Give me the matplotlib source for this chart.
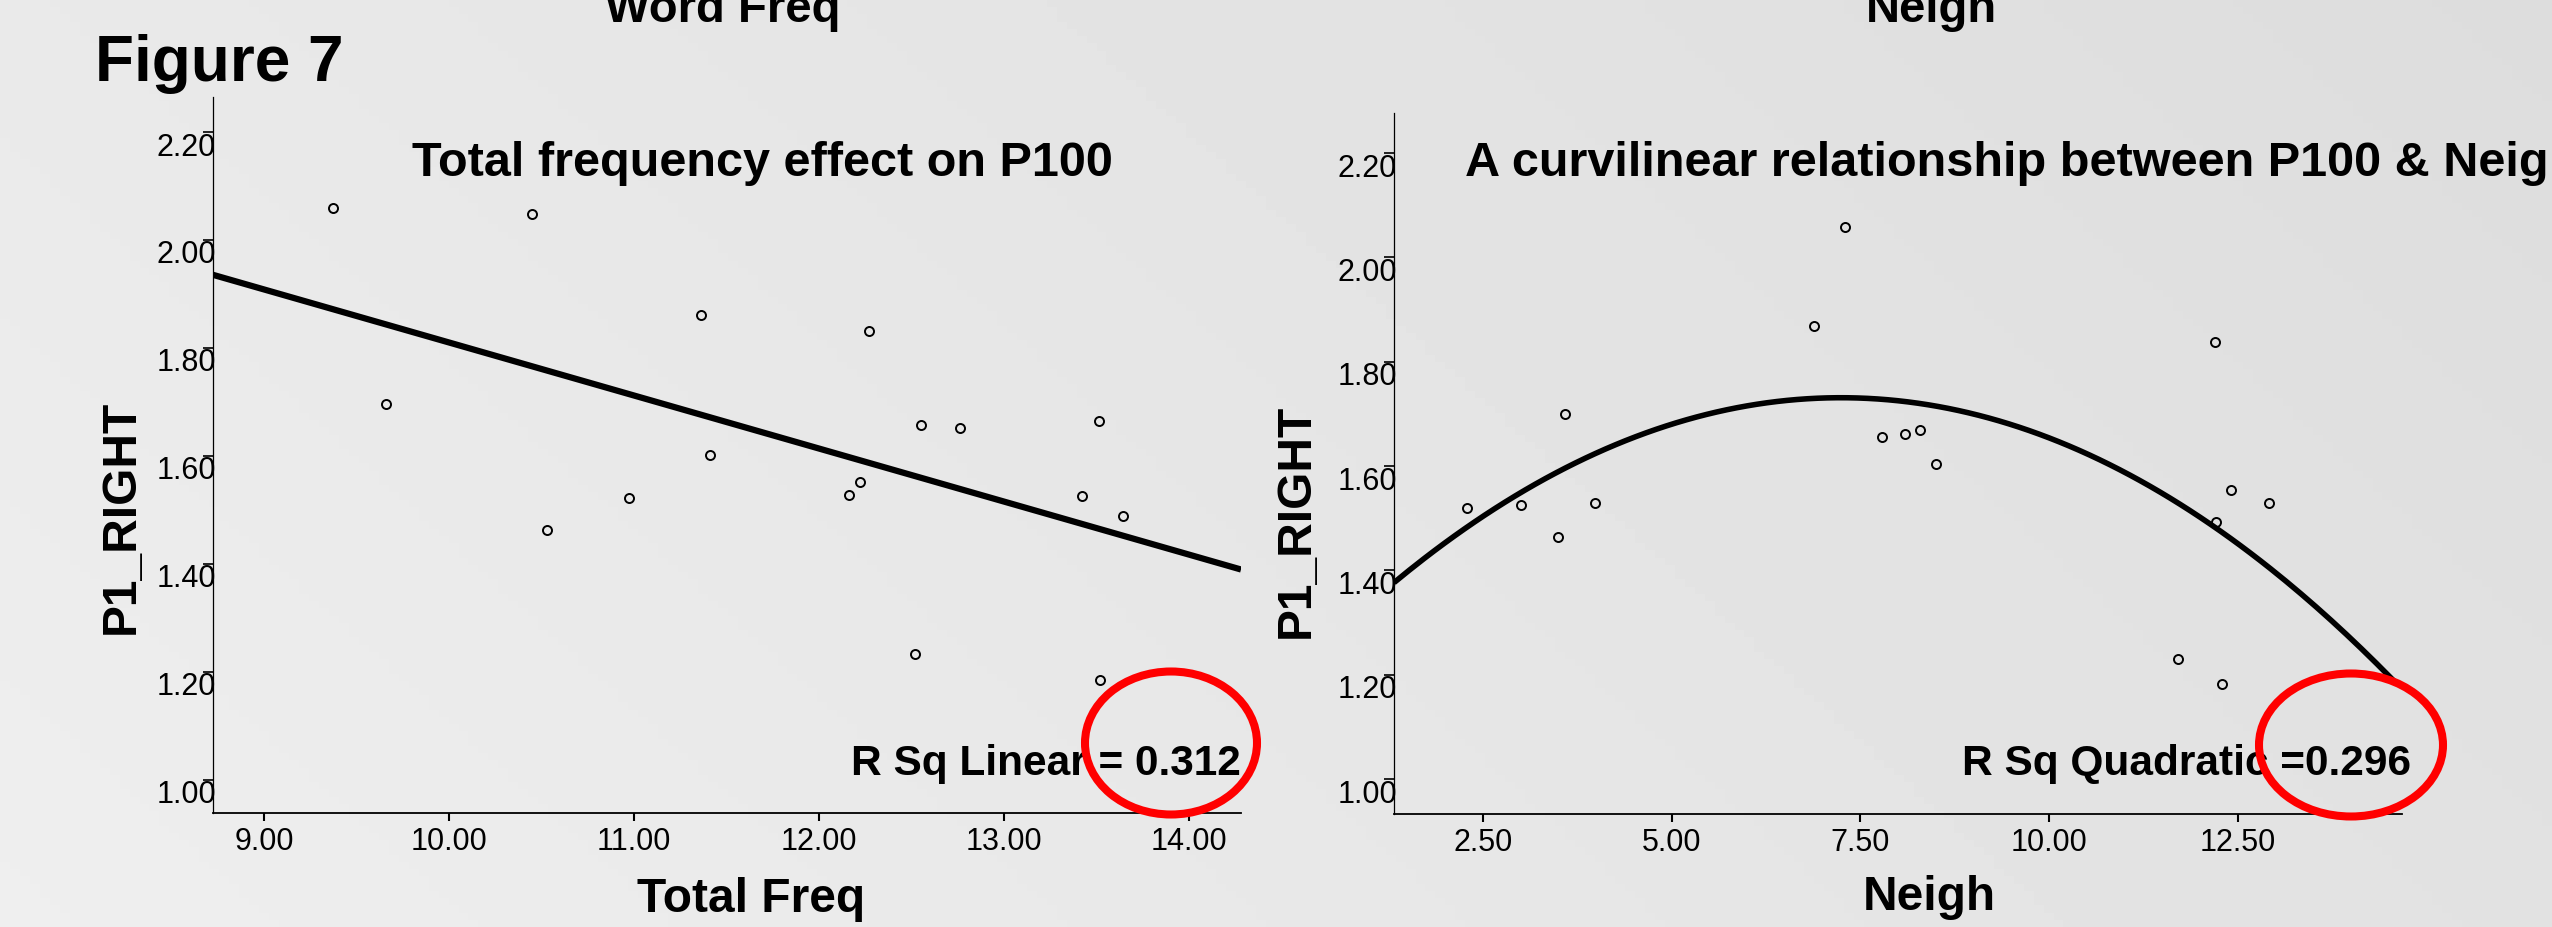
import matplotlib
matplotlib.use('Agg')

import numpy as np
import matplotlib.pyplot as plt
from matplotlib.patches import Ellipse
from matplotlib.transforms import ScaledTranslation

# Left panel: Total Freq vs P1_RIGHT
total_freq = [9.37, 10.45, 9.66, 11.36, 12.27, 11.41, 10.97, 10.53, 12.16,
              12.22, 12.55, 12.76, 13.51, 13.42, 13.64, 12.52, 13.52]
p1_left = [2.059, 2.049, 1.696, 1.861, 1.831, 1.602, 1.522, 1.462, 1.528,
           1.551, 1.657, 1.651, 1.665, 1.526, 1.489, 1.233, 1.185]
linear_fit = [-0.0983, 2.793]          # slope, intercept

# Right panel: Neigh vs P1_RIGHT
neigh = [7.30, 6.89, 12.20, 3.59, 7.79, 8.09, 8.29, 8.50, 2.29,
         3.00, 3.99, 3.49, 12.40, 12.91, 12.21, 11.70, 12.29]
p1_right = [2.058, 1.868, 1.837, 1.700, 1.655, 1.662, 1.669, 1.605, 1.520,
            1.525, 1.530, 1.464, 1.554, 1.530, 1.493, 1.231, 1.183]
quad_fit = [-0.01013, 0.1467, 1.200]   # x^2, x, const

left_xticks = [9, 10, 11, 12, 13, 14]
right_xticks = [2.5, 5.0, 7.5, 10.0, 12.5]
yticks = [1.0, 1.2, 1.4, 1.6, 1.8, 2.0, 2.2]

W, H = 2552, 927
plt.rcParams['font.family'] = ['Liberation Sans', 'DejaVu Sans']

fig = plt.figure(figsize=(W / 100, H / 100), dpi=100)


def px(x, y):
    # pixel position (from top-left) -> figure fraction
    return x / W, 1 - y / H


# gradient background
bg = fig.add_axes([0, 0, 1, 1], zorder=-10)
xf, yf = np.meshgrid(np.linspace(0, 1, 256), np.linspace(0, 1, 128))
grad = 0.915 - 0.05 * xf + 0.02 * yf
bg.imshow(grad, cmap='gray', vmin=0, vmax=1, aspect='auto', extent=[0, 1, 1, 0])
bg.set_axis_off()


def style_axes(ax, xticks):
    ax.patch.set_alpha(0)
    for s in ['top', 'right']:
        ax.spines[s].set_visible(False)
    ax.spines['left'].set_linewidth(0.9)
    ax.spines['bottom'].set_linewidth(1.3)
    ax.set_xticks(xticks)
    ax.set_xticklabels(['%.2f' % v for v in xticks])
    ax.set_yticks(yticks)
    ax.set_yticklabels(['%.2f' % v for v in yticks])
    ax.tick_params(axis='x', direction='out', length=5.8, width=1.5, pad=4.3, labelsize=22)
    ax.tick_params(axis='y', direction='out', length=7.2, width=1.2, pad=-9.4, labelsize=22)
    off = ScaledTranslation(0, -0.12, fig.dpi_scale_trans)
    for lab in ax.get_yticklabels():
        lab.set_transform(lab.get_transform() + off)


# left panel
ax1 = fig.add_axes([213 / W, (927 - 813) / H, 1028 / W, 716 / H])
style_axes(ax1, left_xticks)
ax1.set_xlim(8.724, 14.28)
ax1.set_ylim(0.938, 2.265)
ax1.plot(total_freq, p1_left, 'o', ms=6.5, mfc='none', mec='black', mew=1.4)
xs = np.array(ax1.get_xlim())
ax1.plot(xs, np.polyval(linear_fit, xs), color='black', lw=4.5, solid_capstyle='butt')

# right panel
ax2 = fig.add_axes([1394 / W, (927 - 814) / H, 1008 / W, 701 / H])
style_axes(ax2, right_xticks)
ax2.set_xlim(1.325, 14.67)
ax2.set_ylim(0.933, 2.277)
ax2.plot(neigh, p1_right, 'o', ms=6.5, mfc='none', mec='black', mew=1.4)
xq = np.linspace(1.325, 14.6, 200)
ax2.plot(xq, np.polyval(quad_fit, xq), color='black', lw=4.0, solid_capstyle='butt')

# texts
fig.text(*px(95, 81), 'Figure 7', fontsize=46, fontweight='bold', va='baseline')
fig.text(*px(723, 22), 'Word Freq', fontsize=34, fontweight='bold', ha='center', va='baseline')
fig.text(*px(1931, 22), 'Neigh', fontsize=34, fontweight='bold', ha='center', va='baseline')
fig.text(*px(412, 176), 'Total frequency effect on P100', fontsize=35, fontweight='bold', va='baseline')
fig.text(*px(1465, 176), 'A curvilinear relationship between P100 & Neigh', fontsize=35,
         fontweight='bold', va='baseline')
fig.text(*px(1241, 775), 'R Sq Linear = 0.312', fontsize=30.5, fontweight='bold', ha='right', va='baseline')
fig.text(*px(2411, 775), 'R Sq Quadratic =0.296', fontsize=30.5, fontweight='bold', ha='right', va='baseline')
fig.text(*px(751, 912), 'Total Freq', fontsize=34.5, fontweight='bold', ha='center', va='baseline')
fig.text(*px(1929, 910), 'Neigh', fontsize=34.5, fontweight='bold', ha='center', va='baseline')
fig.text(*px(121, 517), 'P1_RIGHT', fontsize=34.5, fontweight='bold', rotation=90, ha='center', va='center')
fig.text(*px(1296, 521), 'P1_RIGHT', fontsize=34.5, fontweight='bold', rotation=90, ha='center', va='center')

# red circles around the R squared values
for cx, cy, w, h in [(1171, 743, 172, 143), (2351, 745, 184, 143)]:
    fig.patches.append(Ellipse(px(cx, cy), w / W, h / H, transform=fig.transFigure,
                               fill=False, edgecolor='#ff0000', lw=5.8, zorder=20))

fig.savefig('out.png', dpi=100)
